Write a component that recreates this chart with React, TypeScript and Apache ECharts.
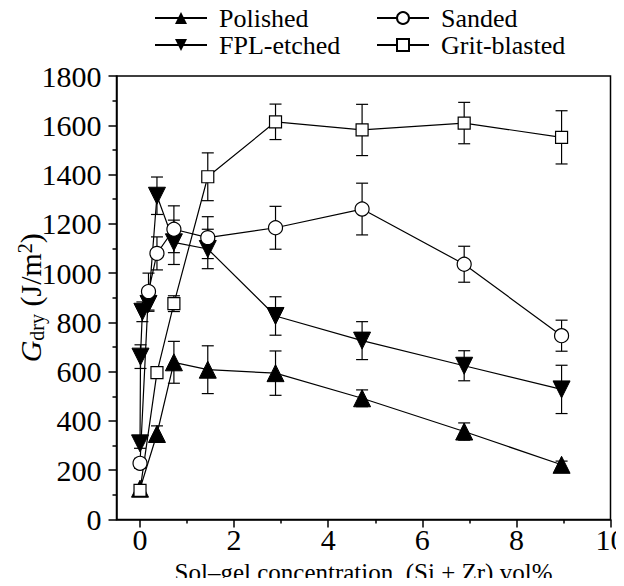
import React, { useEffect, useRef } from "react";
import * as echarts from "echarts";

const seriesNames = ["Polished", "FPL-etched", "Sanded", "Grit-blasted"];

const polishedX = [0, 0.36, 0.72, 1.44, 2.88, 4.72, 6.89, 8.96];
const polishedY = [125, 347, 638, 608, 594, 492, 357, 222];
const polishedErr = [10, 33, 85, 97, 90, 34, 35, 15];

const fplX = [0, 0.01, 0.05, 0.18, 0.36, 0.72, 1.44, 2.88, 4.72, 6.89, 8.96];
const fplY = [309, 661, 843, 875, 1314, 1125, 1098, 826, 726, 624, 528];
const fplErr = [20, 48, 40, 30, 76, 90, 80, 78, 77, 61, 98];

const sandedX = [0, 0.18, 0.36, 0.72, 1.44, 2.88, 4.72, 6.89, 8.96];
const sandedY = [228, 925, 1080, 1178, 1144, 1184, 1260, 1036, 746];
const sandedErr = [20, 75, 67, 95, 85, 87, 105, 73, 63];

const gritX = [0, 0.36, 0.72, 1.44, 2.88, 4.72, 6.89, 8.96];
const gritY = [118, 596, 876, 1391, 1614, 1581, 1609, 1551];
const gritErr = [15, 23, 32, 97, 72, 104, 84, 108];

const xMajorTicks = [0, 2, 4, 6, 8, 10];
const xMinorTicks = [1, 3, 5, 7, 9];

const FONT = "'Liberation Serif', 'Times New Roman', 'DejaVu Serif', serif";

function pairs(xs: number[], ys: number[]) {
  return xs.map((x, i) => [x, ys[i]]);
}
function errs(xs: number[], ys: number[], es: number[]) {
  return xs.map((x, i) => [x, ys[i] - es[i], ys[i] + es[i]]);
}

function errorSeries(data: number[][]) {
  return {
    type: "custom",
    silent: true,
    z: 1,
    renderItem: (params: any, api: any) => {
      const x = api.value(0);
      const lo = api.coord([x, api.value(1)]);
      const hi = api.coord([x, api.value(2)]);
      const w = 6;
      const st = { stroke: "#000", lineWidth: 1.2 };
      return {
        type: "group",
        children: [
          { type: "line", shape: { x1: lo[0], y1: lo[1], x2: hi[0], y2: hi[1] }, style: st },
          { type: "line", shape: { x1: lo[0] - w, y1: lo[1], x2: lo[0] + w, y2: lo[1] }, style: st },
          { type: "line", shape: { x1: hi[0] - w, y1: hi[1], x2: hi[0] + w, y2: hi[1] }, style: st },
        ],
      };
    },
    data,
  };
}

export default function App() {
  const ref = useRef<HTMLDivElement>(null);
  useEffect(() => {
    const chart = echarts.init(ref.current!, null, { renderer: "svg" });
    const lineBase = {
      type: "line",
      z: 3,
      lineStyle: { color: "#000", width: 1.2 },
    };
    const legendCommon = {
      itemWidth: 52,
      itemHeight: 15,
      padding: 0,
      textStyle: { fontFamily: FONT, fontSize: 26, color: "#000", padding: [0, 0, 0, 7] },
      selectedMode: false,
    };
    chart.setOption({
      animation: false,
      backgroundColor: "#fff",
      textStyle: { fontFamily: FONT },
      legend: [
        { ...legendCommon, data: ["Polished"], left: 154, top: 5 },
        { ...legendCommon, data: ["Sanded"], left: 376, top: 5 },
        { ...legendCommon, data: ["FPL-etched"], left: 154, top: 32 },
        { ...legendCommon, data: ["Grit-blasted"], left: 376, top: 32 },
      ],
      grid: {
        left: 116.5,
        right: 13.5,
        top: 76,
        bottom: 66.5,
        show: true,
        borderColor: "#000",
        borderWidth: 1.5,
        backgroundColor: "transparent",
        containLabel: false,
        outerBoundsMode: "none",
      },
      xAxis: [
        {
          type: "value",
          min: -0.5,
          max: 10,
          splitLine: { show: false },
          axisLine: { show: true, onZero: false, lineStyle: { color: "#000", width: 1.5 } },
          axisTick: { show: true, customValues: xMajorTicks, length: 8, lineStyle: { color: "#000", width: 1.5 } },
          axisLabel: {
            customValues: xMajorTicks,
            color: "#000",
            fontFamily: FONT,
            fontSize: 30,
            margin: 5,
            hideOverlap: false,
          },
          name: "Sol\u2013gel concentration, (Si + Zr) vol%",
          nameLocation: "middle",
          nameGap: 40,
          nameMoveOverlap: false,
          nameTextStyle: { fontFamily: FONT, fontSize: 25, color: "#000" },
        },
        {
          type: "value",
          min: -0.5,
          max: 10,
          position: "bottom",
          splitLine: { show: false },
          axisLine: { show: false, onZero: false },
          axisTick: { show: true, customValues: xMinorTicks, length: 4, lineStyle: { color: "#000", width: 1.5 } },
          axisLabel: { show: false },
        },
      ],
      yAxis: {
        type: "value",
        min: 0,
        max: 1800,
        interval: 200,
        splitLine: { show: false },
        axisLine: { show: true, onZero: false, lineStyle: { color: "#000", width: 1.5 } },
        axisTick: { show: true, length: 8, lineStyle: { color: "#000", width: 1.5 } },
        minorTick: { show: true, splitNumber: 2, length: 4, lineStyle: { color: "#000", width: 1.5 } },
        axisLabel: {
          color: "#000",
          fontFamily: FONT,
          fontSize: 30,
          margin: 15,
          formatter: (v: number) => String(v),
        },
        name: "{i|G}{sub|dry}{n| (J/m}{sup|2}{n|)}",
        nameLocation: "middle",
        nameGap: 70,
        nameRotate: 90,
        nameMoveOverlap: false,
        nameTextStyle: {
          fontFamily: FONT,
          color: "#000",
          rich: {
            i: { fontFamily: FONT, fontSize: 30, fontStyle: "italic", color: "#000" },
            sub: { fontFamily: FONT, fontSize: 20, color: "#000", padding: [12, 0, 0, 0] },
            sup: { fontFamily: FONT, fontSize: 20, color: "#000", padding: [0, 0, 12, 0] },
            n: { fontFamily: FONT, fontSize: 30, color: "#000" },
          },
        },
      },
      series: [
        errorSeries(errs(polishedX, polishedY, polishedErr)),
        errorSeries(errs(fplX, fplY, fplErr)),
        errorSeries(errs(sandedX, sandedY, sandedErr)),
        errorSeries(errs(gritX, gritY, gritErr)),
        {
          ...lineBase,
          name: seriesNames[0],
          data: pairs(polishedX, polishedY),
          symbol: "triangle",
          symbolSize: 17,
          itemStyle: { color: "#000", borderColor: "#000" },
        },
        {
          ...lineBase,
          name: seriesNames[1],
          data: pairs(fplX, fplY),
          symbol: "triangle",
          symbolRotate: 180,
          symbolSize: 17,
          itemStyle: { color: "#000", borderColor: "#000" },
        },
        {
          ...lineBase,
          name: seriesNames[2],
          data: pairs(sandedX, sandedY),
          symbol: "circle",
          symbolSize: 14,
          itemStyle: { color: "#fff", borderColor: "#000", borderWidth: 1.2 },
        },
        {
          ...lineBase,
          name: seriesNames[3],
          data: pairs(gritX, gritY),
          symbol: "rect",
          symbolSize: 12,
          itemStyle: { color: "#fff", borderColor: "#000", borderWidth: 1.2 },
        },
      ],
    });
    return () => chart.dispose();
  }, []);
  return <div ref={ref} style={{ width: 624, height: 586, margin: -8 }} />;
}
